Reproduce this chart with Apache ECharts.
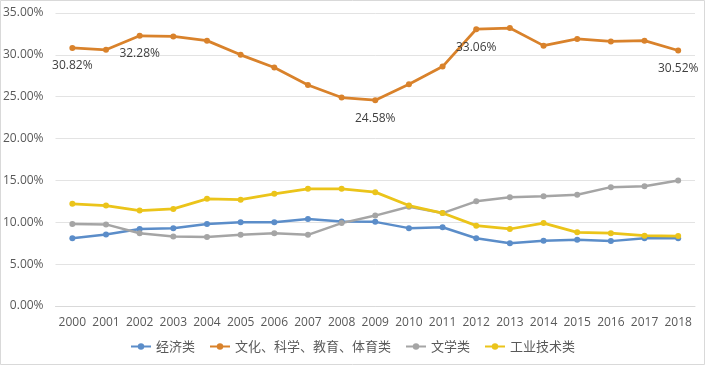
<!DOCTYPE html>
<html><head><meta charset="utf-8">
<script src="https://cdn.jsdelivr.net/npm/echarts@6/dist/echarts.min.js"></script>
<style>html,body{margin:0;padding:0;background:#fff}#c{width:705px;height:366px}</style>
</head><body><div id="c"></div>
<script>
var years = ['2000','2001','2002','2003','2004','2005','2006','2007','2008','2009','2010','2011','2012','2013','2014','2015','2016','2017','2018'];
var econ = [8.1,8.55,9.2,9.3,9.8,10.0,10.0,10.4,10.1,10.05,9.3,9.4,8.1,7.5,7.8,7.9,7.75,8.1,8.1];
var culture = [30.82,30.6,32.28,32.2,31.7,30.0,28.5,26.4,24.9,24.58,26.5,28.6,33.06,33.2,31.1,31.9,31.6,31.7,30.52];
var literature = [9.8,9.75,8.7,8.3,8.25,8.5,8.7,8.5,9.9,10.8,11.85,11.1,12.5,13.0,13.1,13.3,14.2,14.3,15.0];
var industry = [12.2,12.0,11.4,11.6,12.8,12.7,13.4,14.0,14.0,13.6,12.0,11.1,9.6,9.2,9.9,8.8,8.7,8.4,8.35];
var labeledYears = ['2000','2002','2009','2012','2018'];
var names = ['经济类','文化、科学、教育、体育类','文学类','工业技术类'];
var colors = ['#5B8DC9','#D9822B','#A5A5A5','#EBC41A'];

function mk(name, data, color, width, withLabels) {
  return {
    name: name, type: 'line', data: data,
    symbol: 'circle', symbolSize: 6,
    lineStyle: {width: width, color: color},
    itemStyle: {color: color},
    emphasis: {disabled: true},
    label: withLabels ? {
      show: true, position: 'bottom', distance: 9,
      color: '#404040', fontSize: 12, fontFamily: 'Open Sans, Noto Sans, sans-serif',
      formatter: function (p) {
        return labeledYears.indexOf(years[p.dataIndex]) >= 0 ? p.value.toFixed(2) + '%' : '';
      }
    } : {show: false}
  };
}

var chart = echarts.init(document.getElementById('c'), null, {renderer: 'canvas'});
chart.setOption({
  animation: false,
  backgroundColor: '#fff',
  grid: {left: 55, right: 10, top: 13, bottom: 60, containLabel: false},
  graphic: [{type: 'rect', shape: {x: 0.5, y: 0.5, width: 704, height: 364}, style: {fill: 'none', stroke: '#d9d9d9', lineWidth: 1}, silent: true}],
  legend: {
    bottom: 8, left: 'center', itemWidth: 20, itemHeight: 8, itemGap: 14,
    textStyle: {color: '#595959', fontSize: 13, fontFamily: 'Noto Sans CJK SC, sans-serif'},
    data: names
  },
  xAxis: {
    type: 'category', data: years, boundaryGap: true,
    axisLine: {lineStyle: {color: '#D9D9D9'}},
    axisTick: {show: false},
    axisLabel: {interval: 0, color: '#595959', fontSize: 12, margin: 11, fontFamily: 'Open Sans, Noto Sans, sans-serif'}
  },
  yAxis: {
    type: 'value', min: 0, max: 35, interval: 5,
    axisLine: {show: false}, axisTick: {show: false},
    splitLine: {lineStyle: {color: '#E3E3E3'}},
    axisLabel: {color: '#595959', fontSize: 12, margin: 12, fontFamily: 'Open Sans, Noto Sans, sans-serif',
      formatter: function (v) { return v.toFixed(2) + '%'; }}
  },
  series: [
    mk(names[0], econ, colors[0], 2.5, false),
    mk(names[1], culture, colors[1], 2.75, true),
    mk(names[2], literature, colors[2], 2.5, false),
    mk(names[3], industry, colors[3], 2.75, false)
  ]
});
</script></body></html>
